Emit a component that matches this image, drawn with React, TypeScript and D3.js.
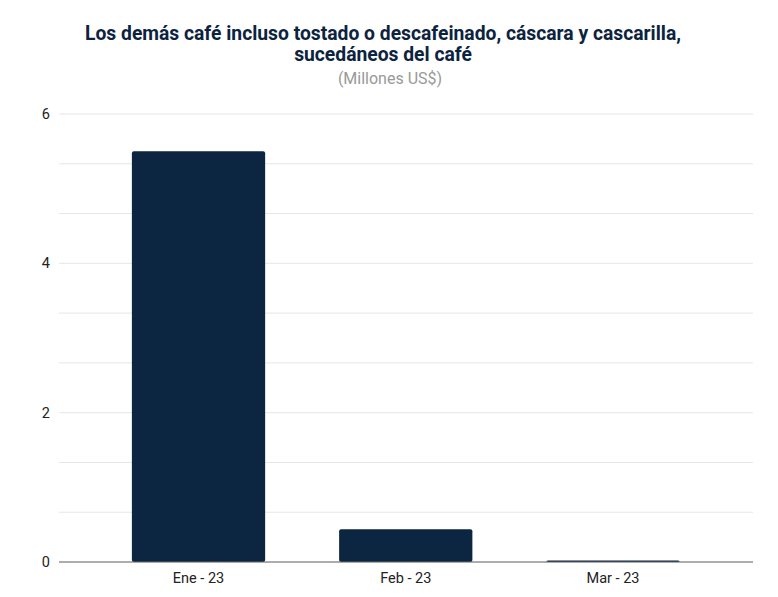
import React from "react";
import * as d3 from "d3";

const categories = ["Ene - 23", "Feb - 23", "Mar - 23"];
const values = [5.5, 0.44, 0.02];
const yTickLabels = [0, 2, 4, 6];
const titleLines = [
  "Los demás café incluso tostado o descafeinado, cáscara y cascarilla,",
  "sucedáneos del café",
];
const subtitle = "(Millones US$)";

export default function App() {
  const W = 778;
  const H = 597;
  const plotLeft = 59;
  const plotRight = 753;
  const y = d3.scaleLinear().domain([0, 6]).range([562, 114]);
  const x = d3.scaleBand().domain(categories).range([95, 716.5]).paddingInner(0.357).paddingOuter(0.178);
  const gridVals = d3.range(0, 6.001, 2 / 3);
  const font = "Roboto, 'Noto Sans', sans-serif";
  return (
    <svg width={W} height={H} style={{ position: "absolute", left: 0, top: 0, background: "#fff" }}>
      {titleLines.map((t, i) => (
        <text key={i} x={383} y={40 + i * 21} textAnchor="middle" fontFamily={font} fontWeight="bold" fontSize={19.3} fill="#0c2340">
          {t}
        </text>
      ))}
      <text x={390} y={84} textAnchor="middle" fontFamily={font} fontSize={16} fill="#999">
        {subtitle}
      </text>
      {gridVals.map((v, i) => (
        <line key={i} x1={plotLeft} x2={plotRight} y1={y(v)} y2={y(v)} stroke="#e6e6e6" strokeWidth={1} />
      ))}
      {yTickLabels.map((v) => (
        <text key={v} x={50} y={y(v) + 5} textAnchor="end" fontFamily={font} fontSize={14.5} fill="#222">
          {v}
        </text>
      ))}
      {categories.map((c, i) => {
        const top = y(values[i]);
        const h = y(0) - top;
        return (
          <rect key={c} x={x(c)} y={top} width={x.bandwidth()} height={Math.max(h, 1.5)} rx={2} fill="#0c2540" />
        );
      })}
      <line x1={plotLeft} x2={plotRight} y1={y(0)} y2={y(0)} stroke="#666" strokeWidth={1} />
      {categories.map((c) => (
        <text key={c} x={(x(c) as number) + x.bandwidth() / 2} y={583} textAnchor="middle" fontFamily={font} fontSize={14.5} fill="#222">
          {c}
        </text>
      ))}
    </svg>
  );
}
